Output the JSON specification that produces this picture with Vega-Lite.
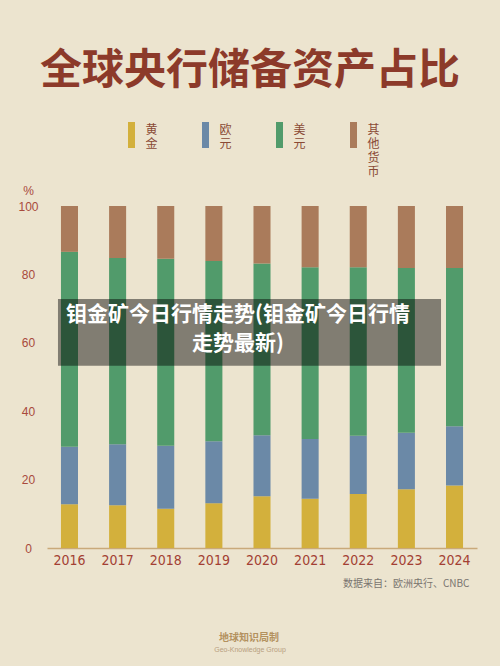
{
  "$schema": "https://vega.github.io/schema/vega-lite/v6.json",
  "width": 430,
  "height": 342,
  "autosize": {"type": "none"},
  "padding": {"left": 47, "top": 206, "right": 23, "bottom": 118},
  "background": "#ece4cf",
  "title": {
    "text": "全球央行储备资产占比",
    "font": "Noto Sans CJK SC",
    "fontSize": 42,
    "fontWeight": "bold",
    "color": "#8c3a2a",
    "anchor": "middle",
    "dx": -12,
    "offset": 10
  },
  "config": {
    "view": {"stroke": null},
    "font": "Noto Sans CJK SC"
  },
  "layer": [
    {
      "data": {
        "values": [
          {"year": "2016", "asset": "黄金", "value": 12.8},
          {"year": "2016", "asset": "欧元", "value": 16.8},
          {"year": "2016", "asset": "美元", "value": 57.0},
          {"year": "2016", "asset": "其他货币", "value": 13.4},
          {"year": "2017", "asset": "黄金", "value": 12.5},
          {"year": "2017", "asset": "欧元", "value": 17.8},
          {"year": "2017", "asset": "美元", "value": 54.5},
          {"year": "2017", "asset": "其他货币", "value": 15.2},
          {"year": "2018", "asset": "黄金", "value": 11.5},
          {"year": "2018", "asset": "欧元", "value": 18.4},
          {"year": "2018", "asset": "美元", "value": 54.7},
          {"year": "2018", "asset": "其他货币", "value": 15.4},
          {"year": "2019", "asset": "黄金", "value": 13.1},
          {"year": "2019", "asset": "欧元", "value": 18.1},
          {"year": "2019", "asset": "美元", "value": 52.7},
          {"year": "2019", "asset": "其他货币", "value": 16.1},
          {"year": "2020", "asset": "黄金", "value": 15.1},
          {"year": "2020", "asset": "欧元", "value": 17.9},
          {"year": "2020", "asset": "美元", "value": 50.2},
          {"year": "2020", "asset": "其他货币", "value": 16.8},
          {"year": "2021", "asset": "黄金", "value": 14.4},
          {"year": "2021", "asset": "欧元", "value": 17.5},
          {"year": "2021", "asset": "美元", "value": 50.2},
          {"year": "2021", "asset": "其他货币", "value": 17.9},
          {"year": "2022", "asset": "黄金", "value": 15.8},
          {"year": "2022", "asset": "欧元", "value": 17.0},
          {"year": "2022", "asset": "美元", "value": 49.3},
          {"year": "2022", "asset": "其他货币", "value": 17.9},
          {"year": "2023", "asset": "黄金", "value": 17.2},
          {"year": "2023", "asset": "欧元", "value": 16.5},
          {"year": "2023", "asset": "美元", "value": 48.2},
          {"year": "2023", "asset": "其他货币", "value": 18.1},
          {"year": "2024", "asset": "黄金", "value": 18.3},
          {"year": "2024", "asset": "欧元", "value": 17.3},
          {"year": "2024", "asset": "美元", "value": 46.3},
          {"year": "2024", "asset": "其他货币", "value": 18.1}
        ]
      },
      "transform": [
        {"calculate": "indexof(['黄金', '欧元', '美元', '其他货币'], datum.asset)", "as": "stackKey"}
      ],
      "mark": {"type": "bar"},
      "encoding": {
        "x": {
          "field": "year",
          "type": "nominal",
          "scale": {"type": "band", "paddingInner": 0.646, "paddingOuter": 0.29},
          "axis": {
            "title": "数据来自：欧洲央行、CNBC",
            "titleFont": "Noto Sans CJK SC",
            "titleFontSize": 10,
            "titleFontWeight": "normal",
            "titleColor": "#7a7570",
            "titleAlign": "right",
            "titleAnchor": "start",
            "titleBaseline": "middle",
            "titleX": 422,
            "titleY": 35,
            "labelAngle": 0,
            "labelFont": "Liberation Sans Narrow, DejaVu Sans Condensed, sans-serif",
            "labelFontSize": 14,
            "labelColor": "#a33f33",
            "labelPadding": 5,
            "ticks": false,
            "tickSize": 0,
            "domainColor": "#c9a97a",
            "domainWidth": 1.5
          }
        },
        "y": {
          "field": "value",
          "type": "quantitative",
          "stack": "zero",
          "scale": {"domain": [0, 100], "nice": false},
          "axis": {
            "values": [0, 20, 40, 60, 80, 100],
            "title": "%",
            "titleAngle": 0,
            "titleX": -19,
            "titleY": -16,
            "titleAlign": "center",
            "titleBaseline": "middle",
            "titleFontSize": 12,
            "titleFontWeight": "normal",
            "titleColor": "#a84a3c",
            "titleFont": "Liberation Sans, sans-serif",
            "labelFont": "Liberation Sans, sans-serif",
            "labelFontSize": 12,
            "labelColor": "#a84a3c",
            "labelAlign": "center",
            "labelPadding": 19,
            "ticks": false,
            "tickSize": 0,
            "domain": false,
            "grid": false
          }
        },
        "order": {"field": "stackKey", "type": "quantitative", "sort": "ascending"},
        "color": {
          "field": "asset",
          "type": "nominal",
          "sort": ["黄金", "欧元", "美元", "其他货币"],
          "scale": {
            "domain": ["黄金", "欧元", "美元", "其他货币"],
            "range": ["#d3b03c", "#6b89a7", "#519b6b", "#aa7b5b"]
          },
          "legend": {
            "orient": "none",
            "legendX": 71.5,
            "legendY": -103,
            "direction": "horizontal",
            "title": null,
            "symbolType": "M-0.27,0.46H0.27V2.46H-0.27Z",
            "symbolSize": 676,
            "symbolStrokeWidth": 0,
            "symbolOpacity": 1,
            "labelExpr": "datum.label == '黄金' ? ['', '', '黄', '金', '', ''] : datum.label == '欧元' ? ['', '', '欧', '元', '', ''] : datum.label == '美元' ? ['', '', '美', '元', '', ''] : ['', '', '其', '他', '货', '币']",
            "labelFont": "Noto Sans CJK SC",
            "labelFontSize": 12,
            "labelColor": "#8a4a35",
            "labelBaseline": "middle",
            "labelOffset": 1,
            "columnPadding": 34
          }
        }
      }
    },
    {
      "data": {"values": [{"label": "banner"}]},
      "mark": {"type": "rect", "color": "#000000", "opacity": 0.45, "xOffset": -11.5, "x2Offset": -13.5},
      "encoding": {
        "x": {"datum": "2016"},
        "x2": {"datum": "2024"},
        "y": {"datum": 53.3},
        "y2": {"datum": 72.8}
      }
    },
    {
      "data": {"values": [{"label": "钼金矿今日行情走势(钼金矿今日行情\n走势最新)"}]},
      "mark": {
        "type": "text",
        "color": "#ffffff",
        "font": "Noto Sans CJK SC",
        "fontSize": 21,
        "fontWeight": "bold",
        "lineBreak": "\n",
        "lineHeight": 29,
        "align": "center",
        "baseline": "middle",
        "dx": -24
      },
      "encoding": {
        "x": {"datum": "2020"},
        "y": {"datum": 68.1},
        "text": {"field": "label"}
      }
    },
    {
      "data": {"values": [{"label": "地球知识局制"}]},
      "mark": {
        "type": "text",
        "color": "#b3915e",
        "font": "Noto Sans CJK SC",
        "fontSize": 10,
        "fontWeight": "bold",
        "align": "center",
        "baseline": "middle",
        "dx": -13
      },
      "encoding": {
        "x": {"datum": "2020"},
        "y": {"datum": -26.3},
        "text": {"field": "label"}
      }
    },
    {
      "data": {"values": [{"label": "Geo-Knowledge Group"}]},
      "mark": {
        "type": "text",
        "color": "#b8a080",
        "font": "Liberation Sans, sans-serif",
        "fontSize": 7,
        "align": "center",
        "baseline": "middle",
        "dx": -12
      },
      "encoding": {
        "x": {"datum": "2020"},
        "y": {"datum": -29.8},
        "text": {"field": "label"}
      }
    }
  ]
}
